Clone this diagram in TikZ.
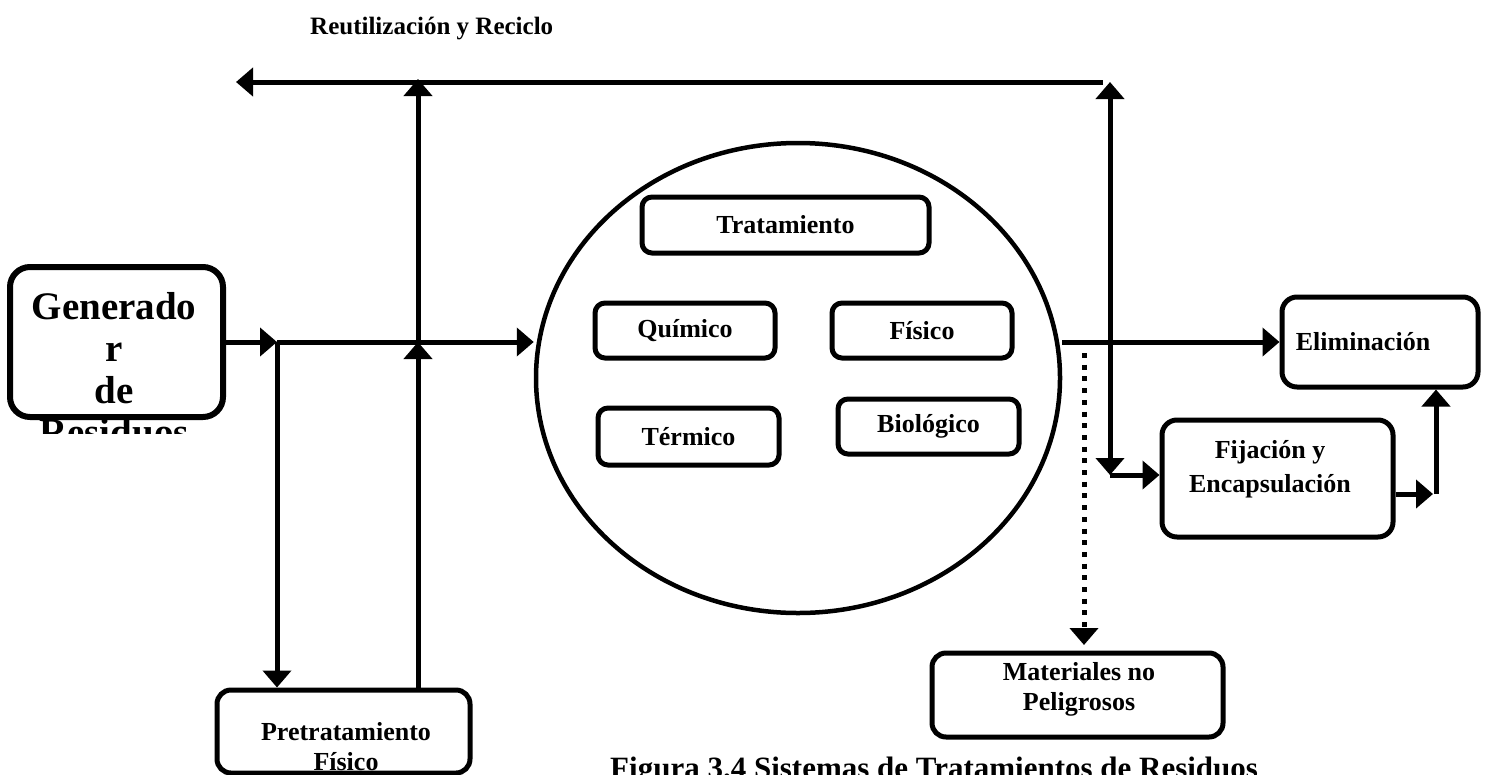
\documentclass[tikz,border=0pt]{standalone}
\usepackage{fontspec}
\setmainfont{Liberation Serif}
\usetikzlibrary{arrows.meta,shapes.geometric}
% centred stack of lines whose baseline is the first line
\newcommand{\linestack}[1]{\begin{tabular}[t]{@{}c@{}}#1\end{tabular}}

\begin{document}
\begin{tikzpicture}[x=1pt,y=-1pt,
  box/.style={draw, line width=5pt, rounded corners=10pt, inner sep=0pt},
  lbl/.style={inner sep=0pt, font=\bfseries\fontsize{26}{30}\selectfont},
  flow/.style={line width=5pt, -{Triangle[length=17pt,width=28pt]}},
  dots/.style={flow, dash pattern=on 5pt off 6.7pt},
]
\clip (0,0) rectangle (1485,774);

% ---------- title ----------
\node[anchor=base west, inner sep=0pt, font=\bfseries\fontsize{25}{30}\selectfont]
  (title) at (310,34) {Reutilización y Reciclo};

% ---------- generator ----------
\node[box, line width=6pt, rounded corners=20pt, minimum width=213pt, minimum height=150pt]
  (gen) at (116.5,342) {};
\begin{scope}
  \clip (0,0) rectangle (300,433);
  \node[anchor=base, inner sep=0pt, font=\bfseries\fontsize{39}{42}\selectfont]
    (gentxt) at (114,319) {\linestack{Generado\\r\\de\\Residuos}};
\end{scope}

% ---------- pretreatment ----------
\node[box, rounded corners=14pt, minimum width=253pt, minimum height=83pt]
  (pre) at (343.5,731.5) {};
\node[lbl, anchor=base] (pretxt) at (346,740) {\linestack{Pretratamiento\\Físico}};

% ---------- treatment circle ----------
\node[draw, ellipse, line width=4.5pt, inner sep=0pt, minimum width=524pt, minimum height=470pt]
  (trt) at (798,378) {};
\node[box, lbl, minimum width=287pt, minimum height=56pt] (tra) at (785.5,225) {Tratamiento};
\node[box, lbl, minimum width=180pt, minimum height=55pt] (qui) at (685,330.5) {Químico};
\node[box, lbl, minimum width=180pt, minimum height=55pt] (fis) at (922,330.5) {Físico};
\node[box, lbl, minimum width=181pt, minimum height=57pt] (ter) at (688.5,436.5) {Térmico};
\node[box, lbl, minimum width=181pt, minimum height=55pt] (bio) at (928.5,426.5) {Biológico};

% ---------- outputs ----------
\node[box, rounded corners=15pt, minimum width=196pt, minimum height=90pt]
  (eli) at (1380,342) {};
\node[lbl, anchor=base] (elitxt) at (1363,350) {Eliminación};

\node[box, rounded corners=15pt, minimum width=231pt, minimum height=117pt]
  (fij) at (1277.5,478.5) {};
\node[lbl, anchor=base, font=\bfseries\fontsize{26}{34}\selectfont]
  (fijtxt) at (1270,458) {\linestack{Fijación y\\Encapsulación}};

\node[box, rounded corners=14pt, minimum width=291pt, minimum height=84pt]
  (mat) at (1077.5,695) {};
\node[lbl, anchor=base] (mattxt) at (1079,680) {\linestack{Materiales no\\Peligrosos}};

% ---------- caption ----------
\node[anchor=base west, inner sep=0pt, font=\bfseries\fontsize{31}{36}\selectfont]
  (cap) at (610,778) {Figura 3.4 Sistemas de Tratamientos de Residuos};

% ---------- junctions ----------
\coordinate (j1) at (277,342);
\coordinate (j2) at (418,342);
\coordinate (j2top) at (418,79);
\coordinate (tl) at (236,82);
\coordinate (tr) at (1103,82);
\coordinate (j3) at (1110,342);
\coordinate (j3top) at (1110,82);
\coordinate (j4) at (1110,475);
\coordinate (j5) at (1436,494);
\coordinate (j5a) at (1433,494);
\coordinate (dt) at (1084,353);
\coordinate (dtend) at (1084,645);

% ---------- connectors ----------
\draw[flow] (gen) -- (j1);
\draw[flow] (j1) -- (j1 -| trt.west);
\draw[flow] (j1) -- (j1 |- pre.north);
\draw[flow] (j2 |- pre.north) -- (j2);
\draw[flow] (j2) -- (j2top);
\draw[flow] (tr) -- (tl);
\draw[flow] (j3 -| trt.east) -- (eli.west);
\draw[flow] (j3) -- (j3top);
\draw[flow] (j3) -- (j4);
\draw[flow] (j4) -- (j4 -| fij.west);
\draw[flow] (fij.east |- j5) -- (j5a);
\draw[flow] (j5) -- (j5 |- eli.south);
\draw[dots] (dt) -- (dtend);
\end{tikzpicture}
\end{document}
